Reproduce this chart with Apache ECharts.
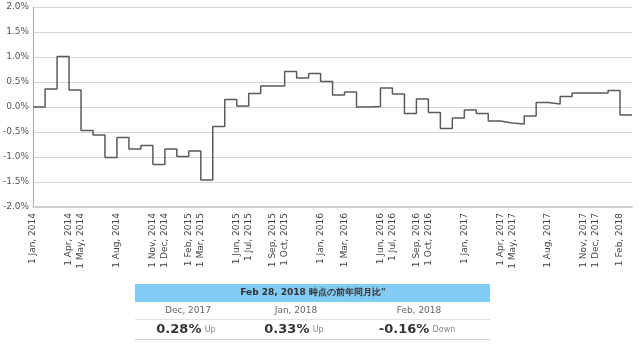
<!DOCTYPE html>
<html>
<head>
<meta charset="utf-8">
<script src="https://cdn.jsdelivr.net/npm/echarts@6/dist/echarts.min.js"></script>
<style>
html,body{margin:0;padding:0;background:#fff;}
#chart{width:642px;height:346px;}
</style>
</head>
<body>
<div id="chart"></div>
<script>
// Month boundaries (last entry closes the Feb 2018 step)
const categories = [
  '1 Jan, 2014','1 Feb, 2014','1 Mar, 2014','1 Apr, 2014','1 May, 2014','1 Jun, 2014',
  '1 Jul, 2014','1 Aug, 2014','1 Sep, 2014','1 Oct, 2014','1 Nov, 2014','1 Dec, 2014',
  '1 Jan, 2015','1 Feb, 2015','1 Mar, 2015','1 Apr, 2015','1 May, 2015','1 Jun, 2015',
  '1 Jul, 2015','1 Aug, 2015','1 Sep, 2015','1 Oct, 2015','1 Nov, 2015','1 Dec, 2015',
  '1 Jan, 2016','1 Feb, 2016','1 Mar, 2016','1 Apr, 2016','1 May, 2016','1 Jun, 2016',
  '1 Jul, 2016','1 Aug, 2016','1 Sep, 2016','1 Oct, 2016','1 Nov, 2016','1 Dec, 2016',
  '1 Jan, 2017','1 Feb, 2017','1 Mar, 2017','1 Apr, 2017','1 May, 2017','1 Jun, 2017',
  '1 Jul, 2017','1 Aug, 2017','1 Sep, 2017','1 Oct, 2017','1 Nov, 2017','1 Dec, 2017',
  '1 Jan, 2018','1 Feb, 2018','1 Mar, 2018'
];
// Year-over-year change (%) per month, Jan 2014 .. Feb 2018
const yoy = [
  0.00, 0.36, 1.01, 0.34, -0.47, -0.56, -1.01, -0.61, -0.84, -0.77, -1.15, -0.84,
  -0.99, -0.88, -1.46, -0.39, 0.15, 0.02, 0.27, 0.42, 0.42, 0.71, 0.58, 0.67,
  0.51, 0.24, 0.30, 0.00, 0.01, 0.38, 0.26, -0.13, 0.16, -0.11, -0.43, -0.22,
  -0.06, -0.13, -0.28, -0.32, -0.34, -0.18, 0.09, 0.06, 0.21, 0.28, 0.28, 0.28,
  0.33, -0.16
];
// Tick labels shown on the x axis
const tickLabels = [
  '1 Jan, 2014','1 Apr, 2014','1 May, 2014','1 Aug, 2014','1 Nov, 2014','1 Dec, 2014',
  '1 Feb, 2015','1 Mar, 2015','1 Jun, 2015','1 Jul, 2015','1 Sep, 2015','1 Oct, 2015',
  '1 Jan, 2016','1 Mar, 2016','1 Jun, 2016','1 Jul, 2016','1 Sep, 2016','1 Oct, 2016',
  '1 Jan, 2017','1 Apr, 2017','1 May, 2017','1 Aug, 2017','1 Nov, 2017','1 Dec, 2017',
  '1 Feb, 2018'
];
const yTicks = [-2.0, -1.5, -1.0, -0.5, 0.0, 0.5, 1.0, 1.5, 2.0];

// Summary table
const tableTitle = 'Feb 28, 2018 時点の前年同月比"';
const tableMonths = ['Dec, 2017', 'Jan, 2018', 'Feb, 2018'];
const tableValues = [0.28, 0.33, -0.16];
const tableDirs = ['Up', 'Up', 'Down'];

const FONT = 'DejaVu Sans';
const chart = echarts.init(document.getElementById('chart'), null, {renderer: 'canvas'});

const lineData = yoy.concat([yoy[yoy.length - 1]]);

const colX = [186, 294, 417];
const graphics = [
  {type: 'rect', shape: {x: 135, y: 284, width: 355, height: 18}, style: {fill: '#82cbf3'}},
  {type: 'text', x: 313, y: 293, style: {text: tableTitle, font: 'bold 9px ' + FONT, fill: '#333', align: 'center', verticalAlign: 'middle'}},
  {type: 'line', shape: {x1: 135, y1: 319.5, x2: 490, y2: 319.5}, style: {stroke: '#e2e2e2', lineWidth: 1}},
  {type: 'line', shape: {x1: 135, y1: 339.5, x2: 490, y2: 339.5}, style: {stroke: '#cfcfcf', lineWidth: 1}}
];
tableMonths.forEach((m, i) => {
  graphics.push({type: 'text', x: colX[i] + 2, y: 311, style: {text: m, font: '9px ' + FONT, fill: '#666', align: 'center', verticalAlign: 'middle'}});
  const v = tableValues[i].toFixed(2) + '%';
  graphics.push({type: 'text', x: colX[i], y: 330, style: {
    text: '{b|' + v + '} {s|' + tableDirs[i] + '}',
    align: 'center', verticalAlign: 'middle',
    rich: {
      b: {font: 'bold 13px ' + FONT, fill: '#333'},
      s: {font: '8px ' + FONT, fill: '#888'}
    }
  }});
});

chart.setOption({
  animation: false,
  backgroundColor: '#fff',
  grid: {left: 32, right: 10, top: 7, bottom: 139, containLabel: false},
  xAxis: {
    type: 'category',
    data: categories,
    boundaryGap: false,
    axisLine: {show: true, onZero: false, lineStyle: {color: '#cfcfcf', width: 2}},
    axisTick: {show: false},
    splitLine: {show: false},
    axisLabel: {
      rotate: 90,
      margin: 6,
      fontFamily: FONT,
      fontSize: 9,
      color: '#444',
      interval: (idx, val) => tickLabels.includes(val)
    }
  },
  yAxis: {
    type: 'value',
    min: yTicks[0],
    max: yTicks[yTicks.length - 1],
    interval: 0.5,
    axisLine: {show: true, lineStyle: {color: '#aaa', width: 1}},
    axisTick: {show: false},
    splitLine: {show: true, lineStyle: {color: '#d6d6d6', width: 1}},
    axisLabel: {
      margin: 4,
      fontFamily: FONT,
      fontSize: 9,
      color: '#555',
      formatter: v => v.toFixed(1) + '%'
    }
  },
  series: [{
    type: 'line',
    step: 'end',
    data: lineData,
    symbol: 'none',
    lineStyle: {color: '#5a5a5a', width: 1.5}
  }],
  graphic: graphics
});
</script>
</body>
</html>
